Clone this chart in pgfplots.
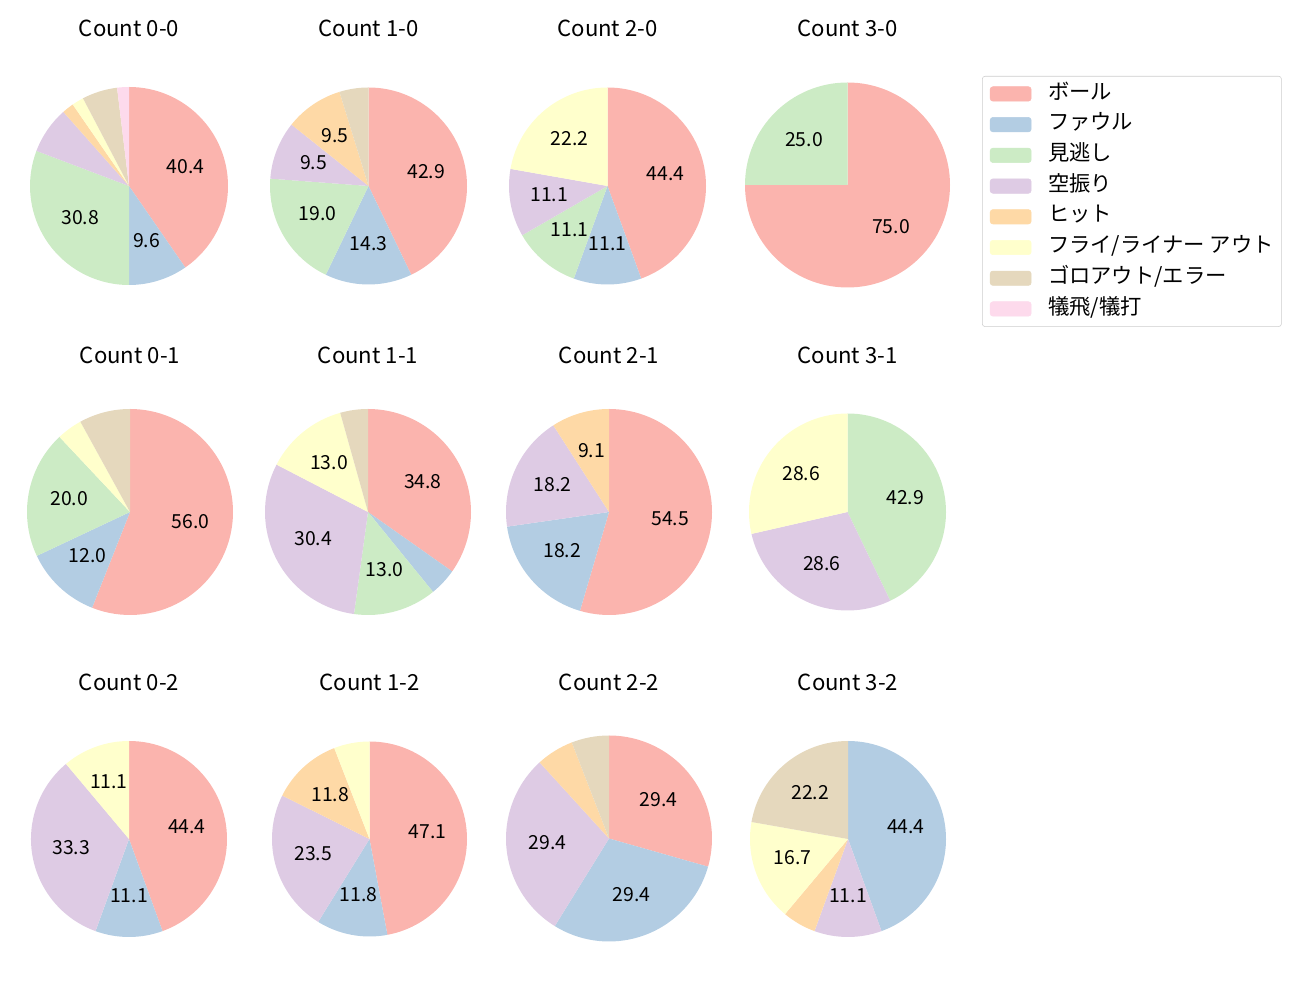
\documentclass[border=0pt]{standalone}
\usepackage{fontspec}
\setmainfont{Noto Sans CJK JP}
\usepackage{pgfplots}
\pgfplotsset{compat=1.18}

\definecolor{c1}{HTML}{FBB4AE}
\definecolor{c2}{HTML}{B3CDE3}
\definecolor{c3}{HTML}{CCEBC5}
\definecolor{c4}{HTML}{DECBE4}
\definecolor{c5}{HTML}{FED9A6}
\definecolor{c6}{HTML}{FFFFCC}
\definecolor{c7}{HTML}{E5D8BD}
\definecolor{c8}{HTML}{FDDAEC}

% #1 centre x, #2 centre y (px from top), #3 radius px, #4 title, #5 title y, #6 count/colour list
\newcommand{\pie}[6]{%
  \pgfplotsextra{%
    \xdef\pietot{0}%
    \foreach \v/\col in {#6}{\pgfmathparse{\pietot+\v}\xdef\pietot{\pgfmathresult}}%
    \xdef\piecum{0}%
    \foreach \v/\col in {#6}{%
      \pgfmathsetmacro\aA{90-\piecum/\pietot*360}%
      \pgfmathsetmacro\aB{90-(\piecum+\v)/\pietot*360}%
      \pgfmathsetmacro\aM{(\aA+\aB)/2}%
      \pgfmathsetmacro\pct{\v/\pietot*100}%
      \fill[\col] (axis cs:#1,{1000-#2}) -- ++(\aA:{#3*0.7227pt})
        arc[start angle=\aA, end angle=\aB, radius={#3*0.7227pt}] -- cycle;
      \ifdim\pct pt<9pt\else
        \node[font=\fontsize{14}{17}\selectfont, yshift=1.2pt] at
          (axis cs:{#1+0.6*#3*cos(\aM)},{1000-#2+0.6*#3*sin(\aM)})
          {\pgfmathprintnumber[fixed,precision=1,fixed zerofill,assume math mode=true]{\pct}};
      \fi
      \pgfmathparse{\piecum+\v}\xdef\piecum{\pgfmathresult}%
    }%
    \node[font=\fontsize{16}{19}\selectfont] at (axis cs:{#1},{1000-#5}) {#4};%
  }%
}

\begin{document}
\begin{tikzpicture}
\begin{axis}[
  scale only axis, width=13in, height=10in,
  xmin=0, xmax=1300, ymin=0, ymax=1000,
  hide axis, clip=false,
  legend image code/.code={\fill[#1] (0pt,-5.2pt) rectangle (29.6pt,5.2pt);},
  legend cell align=left,
  legend style={at={(0.7554,0.924)}, anchor=north west,
    draw=black!20, rounded corners=2pt, fill=white,
    font=\fontsize{15.4}{18}\selectfont,
    inner xsep=5.5pt, inner ysep=6pt,
    column sep=12pt, row sep=8.7pt,
    nodes={inner sep=0pt, text height=10.5pt, text depth=3pt}},
]
\path (axis cs:0,0) rectangle (axis cs:1300,1000);
\addlegendimage{c1}
\addlegendimage{c2}
\addlegendimage{c3}
\addlegendimage{c4}
\addlegendimage{c5}
\addlegendimage{c6}
\addlegendimage{c7}
\addlegendimage{c8}

\pie{129}{186}{99}{Count 0-0}{28}{21/c1,5/c2,16/c3,4/c4,1/c5,1/c6,3/c7,1/c8}
\pie{368.5}{186}{98.5}{Count 1-0}{28}{9/c1,3/c2,4/c3,2/c4,2/c5,1/c7}
\pie{607.5}{186}{98.5}{Count 2-0}{28}{4/c1,1/c2,1/c3,1/c4,2/c6}
\pie{847.5}{185}{102.5}{Count 3-0}{28}{3/c1,1/c3}
\pie{130}{512}{103}{Count 0-1}{355}{14/c1,3/c2,5/c3,1/c6,2/c7}
\pie{368}{512}{103}{Count 1-1}{355}{8/c1,1/c2,3/c3,7/c4,3/c6,1/c7}
\pie{609}{512}{103}{Count 2-1}{355}{6/c1,2/c2,2/c4,1/c5}
\pie{847.5}{512}{98.5}{Count 3-1}{355}{3/c3,2/c4,2/c6}
\pie{129}{839}{98}{Count 0-2}{682}{4/c1,1/c2,3/c4,1/c6}
\pie{369.5}{839}{97.5}{Count 1-2}{682}{8/c1,2/c2,4/c4,2/c5,1/c6}
\pie{609}{838.5}{103}{Count 2-2}{682}{5/c1,5/c2,5/c4,1/c5,1/c7}
\pie{848}{839}{98}{Count 3-2}{682}{8/c2,2/c4,1/c5,3/c6,4/c7}

\legend{ボール,ファウル,見逃し,空振り,ヒット,フライ/ライナー アウト,ゴロアウト/エラー,犠飛/犠打}
\end{axis}
\end{tikzpicture}
\end{document}
